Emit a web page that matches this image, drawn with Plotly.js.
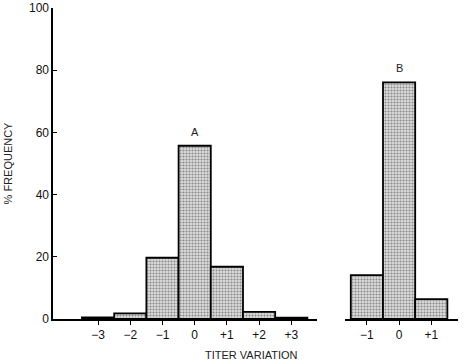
<!DOCTYPE html>
<html>
<head>
<meta charset="utf-8">
<script src="https://cdn.plot.ly/plotly-3.0.1.min.js"></script>
<style>html,body{margin:0;padding:0;background:#fff;}#chart{width:474px;height:364px;}</style>
</head>
<body>
<div id="chart"></div>
<script>
// Group A: titer variation categories and % frequency
var catsA = ["\u22123", "\u22122", "\u22121", "0", "+1", "+2", "+3"];
var valsA = [0.5, 1.8, 19.7, 55.7, 16.8, 2.3, 0.4];
// Group B
var catsB = ["\u22121", "0", "+1"];
var valsB = [14.1, 76.1, 6.4];
var groupLabels = ["A", "B"];
var yTicks = [0, 20, 40, 60, 80, 100];

var font = "Liberation Sans Narrow, Arial Narrow, Liberation Sans, sans-serif";
var barStyle = {
  color: "#c6c6c6",
  line: {color: "#000", width: 1.8},
  pattern: {shape: ".", fgcolor: "#8a8a8a", bgcolor: "#dcdcdc", size: 3, solidity: 0.4}
};

var traces = [
  {type: "bar", x: catsA, y: valsA, xaxis: "x", yaxis: "y", width: 1, marker: barStyle, hoverinfo: "skip"},
  {type: "bar", x: catsB, y: valsB, xaxis: "x2", yaxis: "y", width: 1, marker: barStyle, hoverinfo: "skip"}
];

function maxIdx(a){ var m = 0; for (var i = 1; i < a.length; i++) if (a[i] > a[m]) m = i; return m; }
var iA = maxIdx(valsA), iB = maxIdx(valsB);

var xCommon = {
  type: "category", showline: true, linecolor: "#000", linewidth: 1.6,
  ticks: "outside", ticklen: 4, tickcolor: "#000", tickwidth: 1,
  showgrid: false, zeroline: false, fixedrange: true,
  tickfont: {family: font, size: 12, color: "#111"}, anchor: "y"
};
var labelFont = {family: "Liberation Sans, Arial, sans-serif", size: 11, color: "#222"};

var layout = {
  width: 474, height: 364,
  margin: {l: 53, r: 16, t: 8, b: 45},
  paper_bgcolor: "#fff", plot_bgcolor: "#fff",
  showlegend: false, bargap: 0,
  xaxis: Object.assign({}, xCommon, {domain: [0, 0.652], range: [-1.40, 6.80]}),
  xaxis2: Object.assign({}, xCommon, {domain: [0.721, 1], range: [-0.68, 2.83]}),
  yaxis: {
    range: [0, 100], tickvals: yTicks, ticks: "inside", ticklen: 4, tickwidth: 1, tickcolor: "#000",
    showline: true, linecolor: "#000", linewidth: 1.6, showgrid: false, zeroline: false,
    tickfont: {family: font, size: 12, color: "#111"},
    title: {text: "% FREQUENCY", font: labelFont, standoff: 14}
  },
  annotations: [
    {xref: "x", yref: "y", x: iA, y: valsA[iA], yshift: 14, text: groupLabels[0], showarrow: false, font: labelFont},
    {xref: "x2", yref: "y", x: iB, y: valsB[iB], yshift: 14, text: groupLabels[1], showarrow: false, font: labelFont},
    {xref: "paper", yref: "paper", x: 0.49, y: 0, yshift: -36, xanchor: "center", yanchor: "middle",
     text: "TITER VARIATION", showarrow: false, font: labelFont}
  ]
};

Plotly.newPlot("chart", traces, layout, {staticPlot: true, displayModeBar: false});
</script>
</body>
</html>
